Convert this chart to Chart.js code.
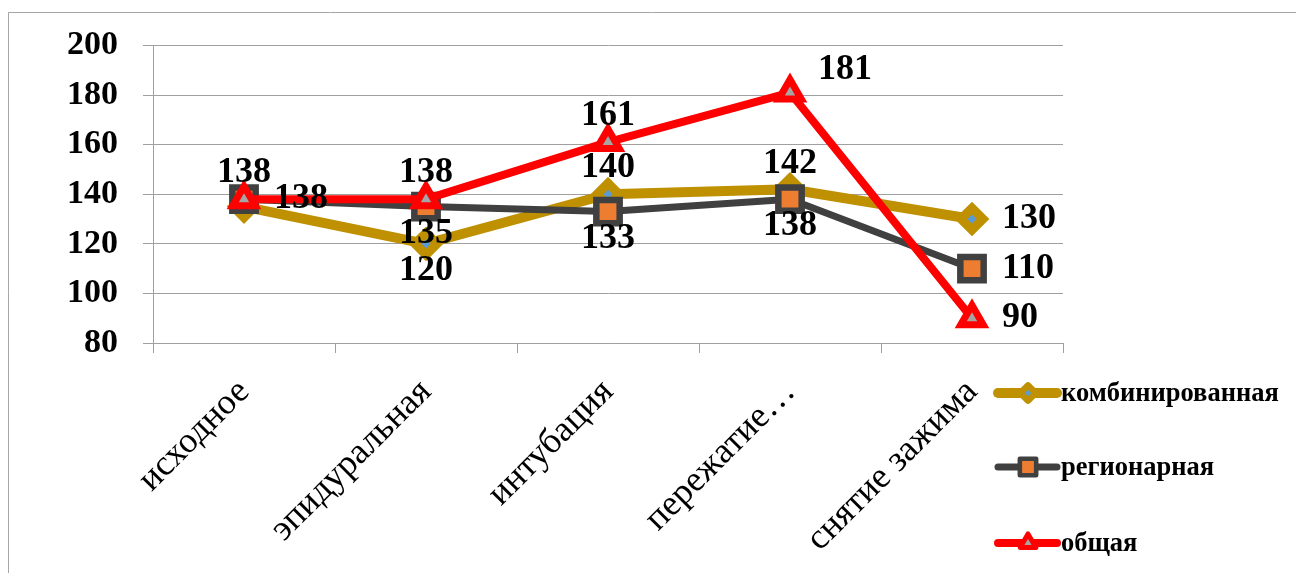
<!DOCTYPE html>
<html>
<head>
<meta charset="utf-8">
<script src="https://cdn.jsdelivr.net/npm/chart.js@4.4.1/dist/chart.umd.min.js"></script>
<style>
  html, body { margin: 0; padding: 0; background: #fff; }
  #wrap { width: 1296px; height: 573px; }
</style>
</head>
<body>
<div id="wrap"><canvas id="bpChart" width="1296" height="573"></canvas></div>
<script>
// этапы и значения
const stages = ['исходное', 'эпидуральная', 'интубация', 'пережатие…', 'снятие зажима'];
const combined = [135, 120, 140, 142, 130];
const regional = [138, 135, 133, 138, 110];
const general = [138, 138, 161, 181, 90];
const yTicks = [80, 100, 120, 140, 160, 180, 200];

// where each value label sits relative to its point
const combinedLabelPos = [null, 'bottom', 'top', 'top', 'right'];
const regionalLabelPos = ['top', 'bottom', 'bottom', 'bottom', 'right'];
const generalLabelPos = ['right', 'top', 'top', 'topright', 'right'];

const SERIF = '"Liberation Serif", "Times New Roman", serif';
const GRID = '#a0a0a0';

function markerPath(ctx, style, x, y, r) {
  ctx.beginPath();
  if (style === 'rectRot') {
    ctx.moveTo(x - r, y);
    ctx.lineTo(x, y - r);
    ctx.lineTo(x + r, y);
    ctx.lineTo(x, y + r);
  } else if (style === 'rect') {
    const s = r * Math.SQRT1_2;
    ctx.rect(x - s, y - s, 2 * s, 2 * s);
  } else {
    const h = r * 1.5, side = r * Math.sqrt(3);
    ctx.moveTo(x, y - r);
    ctx.lineTo(x + side / 2, y - r + h);
    ctx.lineTo(x - side / 2, y - r + h);
  }
  ctx.closePath();
}

const frame = {
  id: 'frame',
  beforeDraw(chart) {
    const ctx = chart.ctx;
    ctx.save();
    ctx.fillStyle = '#fff';
    ctx.fillRect(0, 0, chart.width, chart.height);
    ctx.strokeStyle = '#a6a6a6';
    ctx.lineWidth = 1;
    ctx.beginPath();
    ctx.moveTo(8.5, chart.height);
    ctx.lineTo(8.5, 12.5);
    ctx.lineTo(chart.width, 12.5);
    ctx.stroke();
    ctx.restore();
  }
};

const pointLabels = {
  id: 'pointLabels',
  afterDatasetsDraw(chart) {
    const ctx = chart.ctx;
    ctx.save();
    ctx.font = 'bold 36px ' + SERIF;
    ctx.fillStyle = '#000';
    ctx.textBaseline = 'middle';
    chart.data.datasets.forEach((ds, i) => {
      const meta = chart.getDatasetMeta(i);
      meta.data.forEach((pt, j) => {
        const pos = ds.labelPos[j];
        if (!pos) return;
        let x = pt.x, y = pt.y;
        ctx.textAlign = 'center';
        if (pos === 'top') y -= 26;
        else if (pos === 'bottom') y += 27;
        else if (pos === 'right') { x += 30; ctx.textAlign = 'left'; }
        else if (pos === 'topright') { x += 28; y -= 23; ctx.textAlign = 'left'; }
        ctx.fillText(ds.data[j], x, y);
      });
    });
    ctx.restore();
  }
};

// legend drawn by hand: it sits below the plot, next to the axis labels
const sideLegend = {
  id: 'sideLegend',
  afterDraw(chart) {
    const ctx = chart.ctx;
    const x0 = 998, rows = [393, 467, 543];
    ctx.save();
    ctx.font = 'bold 26.5px ' + SERIF;
    ctx.textBaseline = 'middle';
    ctx.textAlign = 'left';
    chart.data.datasets.forEach((ds, i) => {
      const y = rows[i];
      ctx.strokeStyle = ds.borderColor;
      ctx.lineWidth = ds.borderWidth;
      ctx.lineCap = 'round';
      ctx.beginPath();
      ctx.moveTo(x0, y);
      ctx.lineTo(x0 + 59, y);
      ctx.stroke();
      ctx.lineJoin = 'round';
      ctx.fillStyle = ds.pointBackgroundColor;
      ctx.strokeStyle = ds.pointBorderColor;
      ctx.lineWidth = ds.pointBorderWidth * 0.7;
      markerPath(ctx, ds.pointStyle, x0 + 30, y, ds.pointRadius * 0.7);
      ctx.fill();
      ctx.stroke();
      ctx.fillStyle = '#000';
      ctx.fillText(ds.label, x0 + 63, y + 1);
    });
    ctx.restore();
  }
};

new Chart(document.getElementById('bpChart'), {
  type: 'line',
  data: {
    labels: stages,
    datasets: [
      {
        label: 'комбинированная',
        data: combined,
        labelPos: combinedLabelPos,
        borderColor: '#BF9000',
        borderWidth: 10,
        pointStyle: 'rectRot',
        pointRadius: 11,
        pointBorderWidth: 9,
        pointBackgroundColor: '#5B9BD5',
        pointBorderColor: '#BF9000',
        order: 3
      },
      {
        label: 'регионарная',
        data: regional,
        labelPos: regionalLabelPos,
        borderColor: '#404040',
        borderWidth: 7,
        pointStyle: 'rect',
        pointRadius: 16.5,
        pointBorderWidth: 6.5,
        pointBackgroundColor: '#ED7D31',
        pointBorderColor: '#404040',
        order: 2
      },
      {
        label: 'общая',
        data: general,
        labelPos: generalLabelPos,
        borderColor: '#FF0000',
        borderWidth: 8,
        pointStyle: 'triangle',
        pointRadius: 13,
        pointBorderWidth: 7,
        pointBackgroundColor: '#A5A5A5',
        pointBorderColor: '#FF0000',
        order: 1
      }
    ]
  },
  options: {
    responsive: false,
    animation: false,
    layout: { padding: { left: 0, top: 37, right: 233, bottom: 0 } },
    elements: {
      line: { tension: 0, borderJoinStyle: 'round', borderCapStyle: 'round' },
      point: { hoverRadius: 0 }
    },
    plugins: {
      legend: { display: false },
      tooltip: { enabled: false }
    },
    scales: {
      x: {
        offset: true,
        grid: { drawOnChartArea: false, drawTicks: true, tickLength: 10, color: GRID, offset: true },
        border: { color: GRID },
        ticks: {
          autoSkip: false,
          maxRotation: 45,
          minRotation: 45,
          color: '#000',
          padding: 18,
          font: { family: SERIF, size: 36 }
        },
        afterFit(s) { s.height = 230; s.paddingLeft = 0; s.paddingRight = 0; }
      },
      y: {
        min: yTicks[0],
        max: yTicks[yTicks.length - 1],
        grid: { color: GRID, tickLength: 10 },
        border: { color: GRID },
        ticks: {
          stepSize: yTicks[1] - yTicks[0],
          color: '#000',
          padding: 25,
          font: { family: SERIF, size: 34, weight: 'bold' }
        },
        afterFit(s) { s.width = 153; }
      }
    }
  },
  plugins: [frame, pointLabels, sideLegend]
});
</script>
</body>
</html>
